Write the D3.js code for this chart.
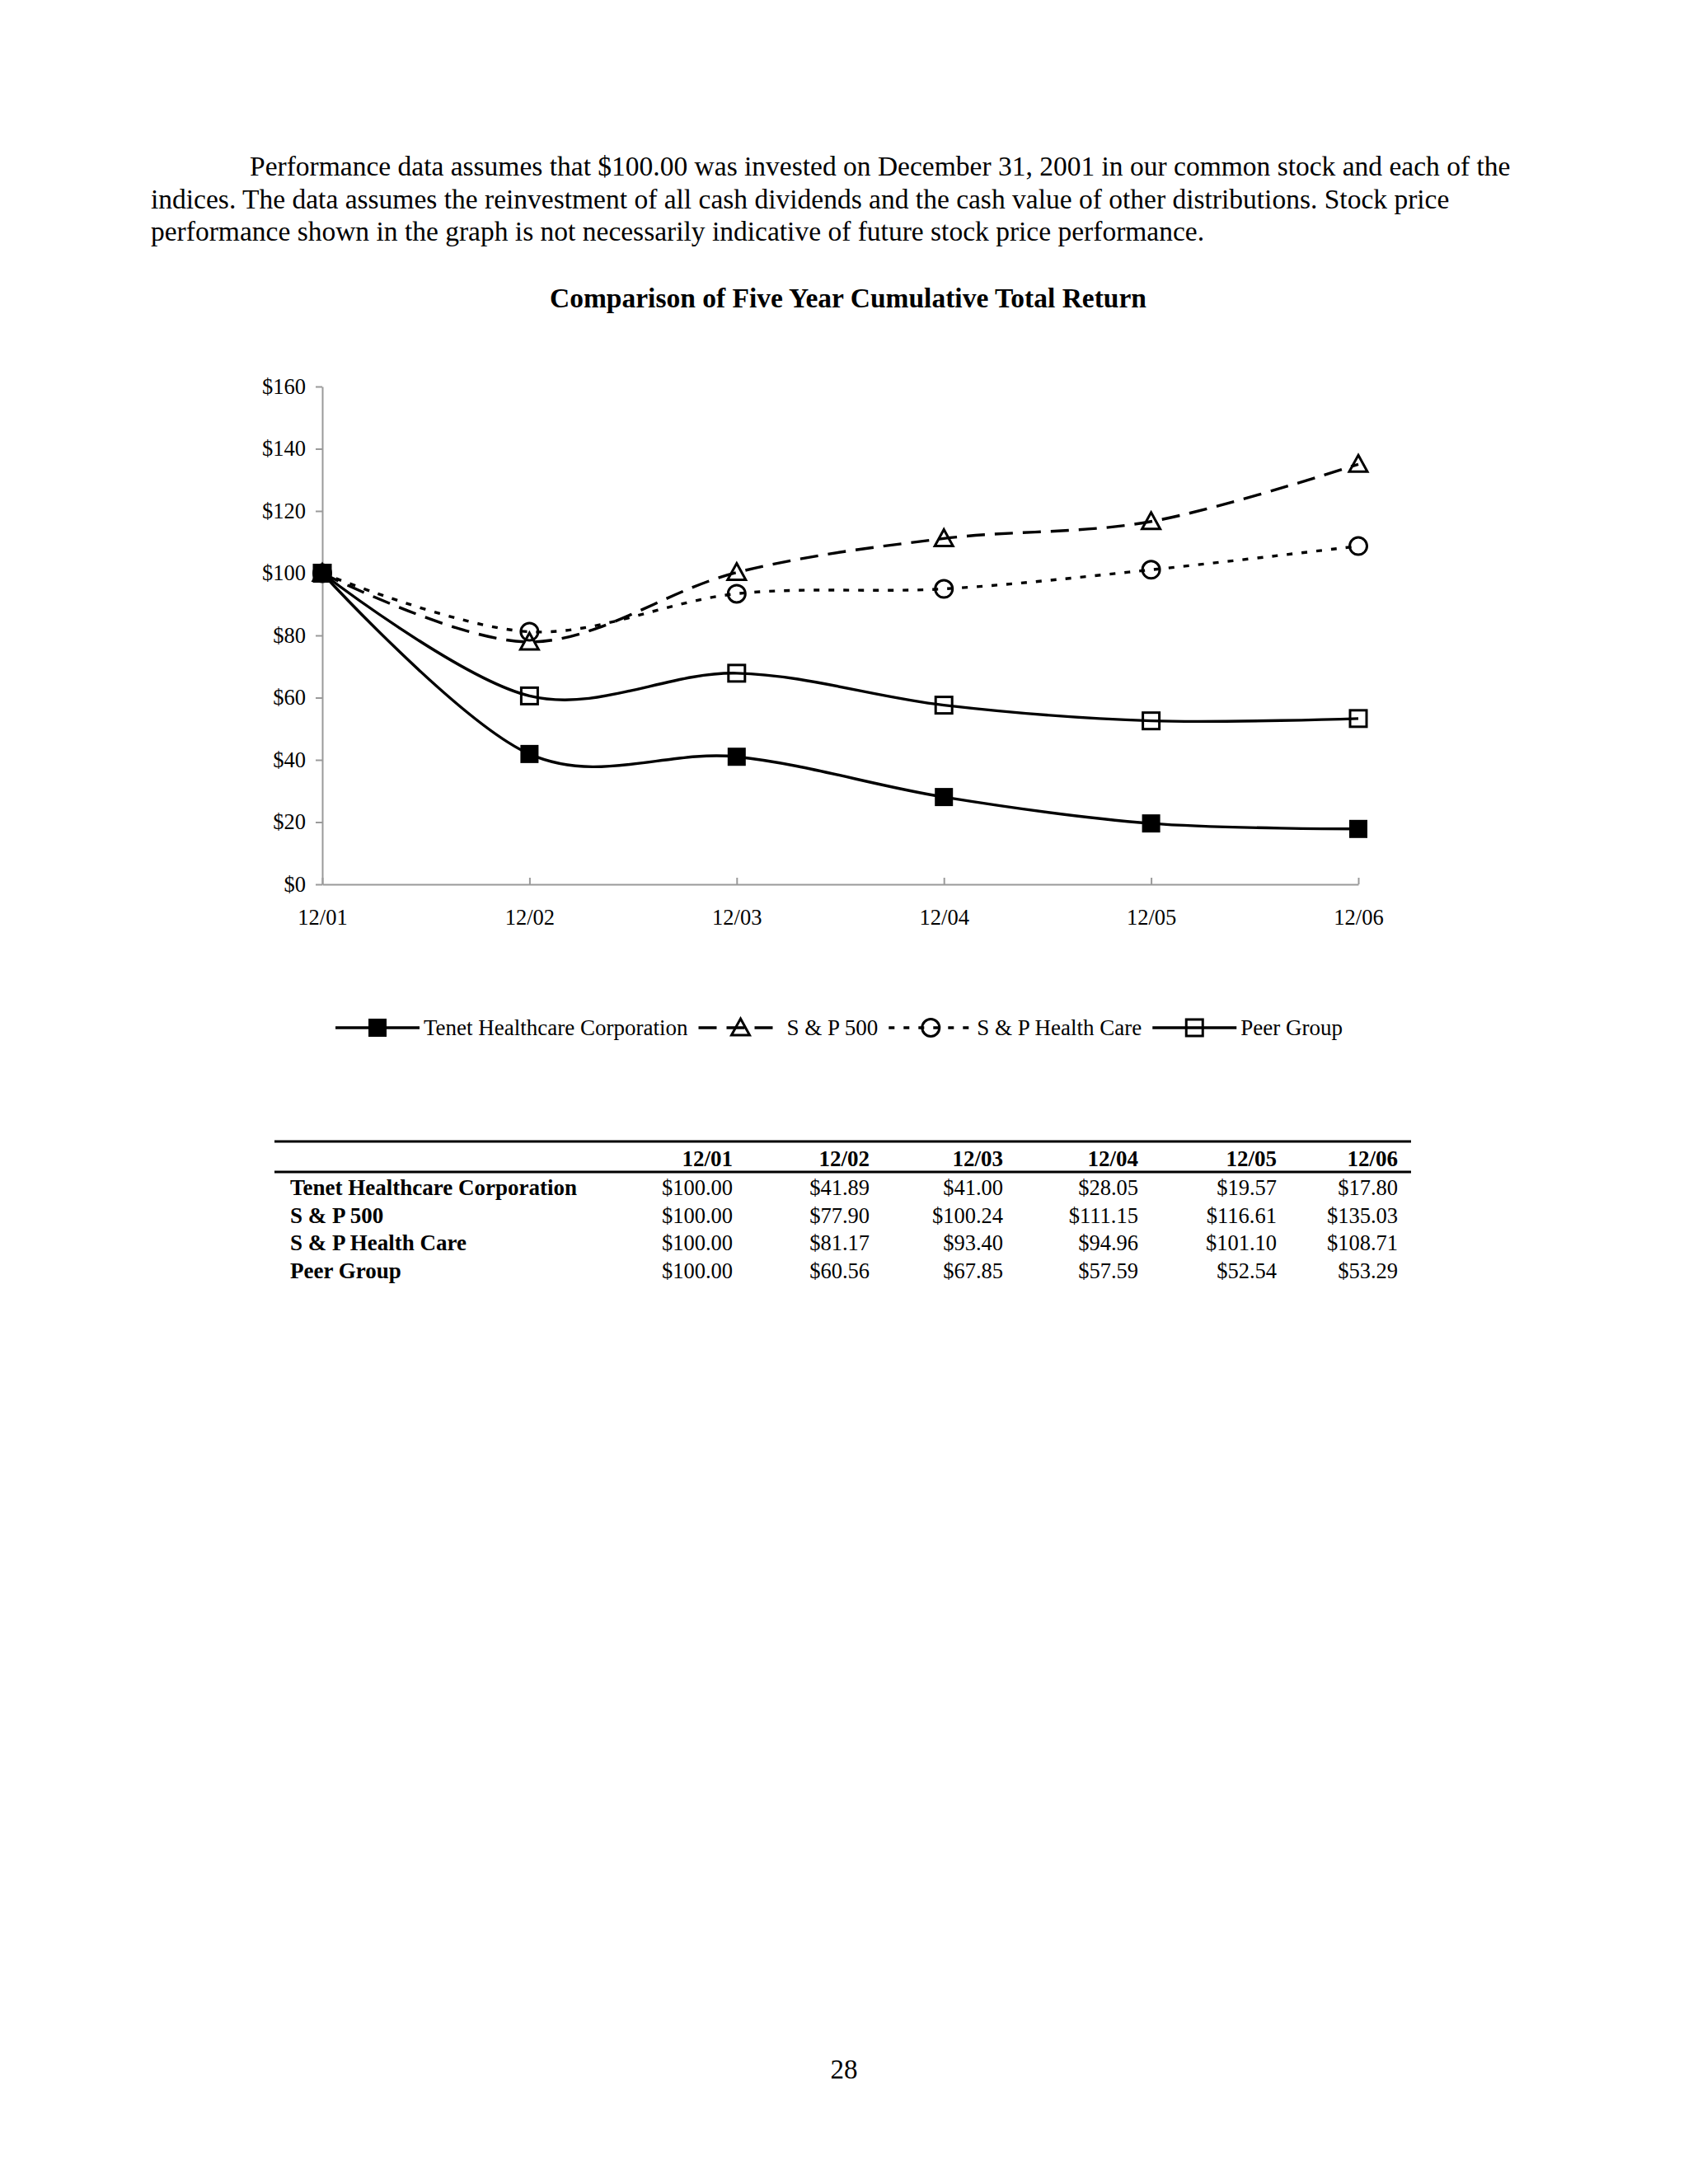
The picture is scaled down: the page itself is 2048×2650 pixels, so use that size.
<!DOCTYPE html>
<html>
<head>
<meta charset="utf-8">
<script src="https://cdn.jsdelivr.net/npm/d3@7"></script>
<style>
  body { margin: 0; background: #fff; }
  text { font-family: "Liberation Serif", "Times New Roman", serif; fill: #000; }
</style>
</head>
<body>
<script>
// chart data
var periods = ["12/01", "12/02", "12/03", "12/04", "12/05", "12/06"];
var tenet = [100.00, 41.89, 41.00, 28.05, 19.57, 17.80];
var sp500 = [100.00, 77.90, 100.24, 111.15, 116.61, 135.03];
var spHealth = [100.00, 81.17, 93.40, 94.96, 101.10, 108.71];
var peerGroup = [100.00, 60.56, 67.85, 57.59, 52.54, 53.29];
var seriesNames = ["Tenet Healthcare Corporation", "S & P 500", "S & P Health Care", "Peer Group"];
var yTicks = [0, 20, 40, 60, 80, 100, 120, 140, 160];

var introLines = [
  "Performance data assumes that $100.00 was invested on December 31, 2001 in our common stock and each of the",
  "indices. The data assumes the reinvestment of all cash dividends and the cash value of other distributions. Stock price",
  "performance shown in the graph is not necessarily indicative of future stock price performance."
];
var chartTitle = "Comparison of Five Year Cumulative Total Return";
var pageNumber = "28";

var series = [
  {name: seriesNames[0], values: tenet, dash: null, marker: "squareFilled"},
  {name: seriesNames[1], values: sp500, dash: "22,12", marker: "triangle"},
  {name: seriesNames[2], values: spHealth, dash: "7,11", marker: "circle"},
  {name: seriesNames[3], values: peerGroup, dash: null, marker: "squareOpen"}
];

var svg = d3.select("body").append("svg")
    .attr("width", 2048)
    .attr("height", 2650);

svg.append("rect").attr("width", 2048).attr("height", 2650).attr("fill", "#fff");

// intro paragraph
var lineX = [303, 183, 183];
svg.selectAll("text.intro")
  .data(introLines)
  .enter().append("text")
    .attr("class", "intro")
    .attr("x", function(d, i) { return lineX[i]; })
    .attr("y", function(d, i) { return 213 + i * 39.5; })
    .style("font-size", "33.5px")
    .text(function(d) { return d; });

svg.append("text")
    .attr("x", 1029)
    .attr("y", 373)
    .attr("text-anchor", "middle")
    .style("font-size", "33.5px")
    .style("font-weight", "bold")
    .text(chartTitle);

// scales
var x = d3.scalePoint().domain(periods).range([391, 1648]).padding(0);
var y = d3.scaleLinear().domain([0, 160]).range([1073, 469]);

var axisColor = "#9a9a9a";

var yAxis = svg.append("g")
    .attr("transform", "translate(391,0)")
    .call(d3.axisLeft(y).tickValues(yTicks).tickSizeInner(8).tickSizeOuter(0).tickPadding(12)
      .tickFormat(function(d) { return "$" + d; }));

var xAxis = svg.append("g")
    .attr("transform", "translate(0,1073)")
    .call(d3.axisBottom(x).tickSizeInner(-8).tickSizeOuter(0).tickPadding(30));

[yAxis, xAxis].forEach(function(a) {
  a.attr("font-family", null).attr("font-size", null);
  a.select(".domain").attr("stroke", axisColor).attr("stroke-width", 2);
  a.selectAll(".tick line").attr("stroke", axisColor).attr("stroke-width", 2);
  a.selectAll(".tick text").style("font-size", "26.5px").attr("fill", "#000");
});

// lines
var line = d3.line()
    .x(function(d, i) { return x(periods[i]); })
    .y(function(d) { return y(d); })
    .curve(d3.curveCatmullRom.alpha(0));

svg.selectAll("path.series")
  .data(series)
  .enter().append("path")
    .attr("class", "series")
    .attr("d", function(d) { return line(d.values); })
    .attr("fill", "none")
    .attr("stroke", "#000")
    .attr("stroke-width", 3.4)
    .attr("stroke-dasharray", function(d) { return d.dash; });

function drawMarker(g, kind, cx, cy) {
  if (kind === "squareFilled") {
    g.append("rect").attr("x", cx - 11).attr("y", cy - 11).attr("width", 22).attr("height", 22)
      .attr("fill", "#000");
  } else if (kind === "squareOpen") {
    g.append("rect").attr("x", cx - 10).attr("y", cy - 10).attr("width", 20).attr("height", 20)
      .attr("fill", "none").attr("stroke", "#000").attr("stroke-width", 3);
  } else if (kind === "triangle") {
    g.append("path")
      .attr("d", "M" + cx + "," + (cy - 11) + "L" + (cx + 11) + "," + (cy + 9) + "L" + (cx - 11) + "," + (cy + 9) + "Z")
      .attr("fill", "none").attr("stroke", "#000").attr("stroke-width", 3);
  } else {
    g.append("circle").attr("cx", cx).attr("cy", cy).attr("r", 10.5)
      .attr("fill", "none").attr("stroke", "#000").attr("stroke-width", 3);
  }
}

series.forEach(function(s) {
  var g = svg.append("g").attr("class", "markers");
  s.values.forEach(function(v, i) {
    drawMarker(g, s.marker, x(periods[i]), y(v));
  });
});

// legend
var legend = svg.append("g").attr("class", "legend");
var legendY = 1247, segLen = 102, textGap = 5, itemGap = 13;
var items = legend.selectAll("g.item").data(series).enter().append("g").attr("class", "item");
items.append("text")
    .attr("y", legendY)
    .attr("dy", "0.33em")
    .style("font-size", "27px")
    .text(function(d) { return d.name; });
var widths = [];
items.select("text").each(function() { widths.push(this.getComputedTextLength()); });
var total = d3.sum(widths) + series.length * (segLen + textGap) + (series.length - 1) * itemGap;
var cursor = 1018 - total / 2;
items.each(function(d, i) {
  var g = d3.select(this);
  g.append("line")
      .attr("x1", cursor).attr("x2", cursor + segLen)
      .attr("y1", legendY).attr("y2", legendY)
      .attr("stroke", "#000").attr("stroke-width", 3.4)
      .attr("stroke-dasharray", d.dash);
  drawMarker(g, d.marker, cursor + segLen / 2, legendY);
  g.select("text").attr("x", cursor + segLen + textGap);
  cursor += segLen + textGap + widths[i] + itemGap;
});

// data table under the chart
var colRight = [889, 1055, 1217, 1381, 1549, 1696];
var rowBase = [1450, 1484, 1517, 1551];
var table = svg.append("g").attr("class", "table");

table.append("line").attr("x1", 333).attr("x2", 1712).attr("y1", 1385).attr("y2", 1385)
  .attr("stroke", "#000").attr("stroke-width", 3);
table.append("line").attr("x1", 333).attr("x2", 1712).attr("y1", 1422).attr("y2", 1422)
  .attr("stroke", "#000").attr("stroke-width", 3);

table.selectAll("text.head")
  .data(periods)
  .enter().append("text")
    .attr("class", "head")
    .attr("x", function(d, i) { return colRight[i]; })
    .attr("y", 1415)
    .attr("text-anchor", "end")
    .style("font-size", "27px")
    .style("font-weight", "bold")
    .text(function(d) { return d; });

series.forEach(function(s, r) {
  table.append("text")
      .attr("x", 352)
      .attr("y", rowBase[r])
      .style("font-size", "27px")
      .style("font-weight", "bold")
      .text(s.name);
  table.selectAll("text.row" + r)
    .data(s.values)
    .enter().append("text")
      .attr("class", "row" + r)
      .attr("x", function(d, i) { return colRight[i]; })
      .attr("y", rowBase[r])
      .attr("text-anchor", "end")
      .style("font-size", "26.5px")
      .text(function(d) { return "$" + d3.format(".2f")(d); });
});

svg.append("text")
    .attr("x", 1024)
    .attr("y", 2522)
    .attr("text-anchor", "middle")
    .style("font-size", "33px")
    .text(pageNumber);
</script>
</body>
</html>
